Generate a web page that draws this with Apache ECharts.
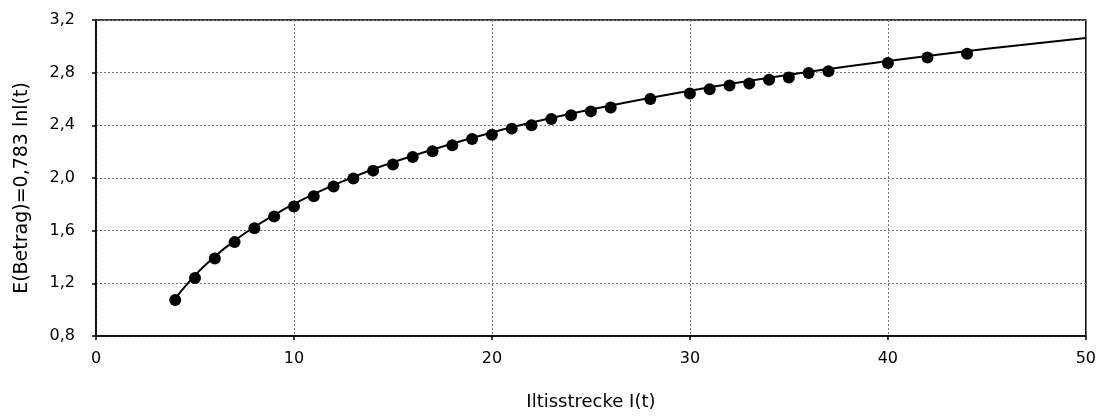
<!DOCTYPE html>
<html>
<head>
<meta charset="utf-8">
<script src="https://cdn.jsdelivr.net/npm/echarts@6/dist/echarts.min.js"></script>
<style>
html,body{margin:0;padding:0;background:#fff;}
#chart{width:1099px;height:416px;}
</style>
</head>
<body>
<div id="chart"></div>
<script>
// Observed points (x = Iltisstrecke, y = E(Betrag))
var pointX = [4,5,6,7,8,9,10,11,12,13,14,15,16,17,18,19,20,21,22,23,24,25,26,28,30,31,32,33,34,35,36,37,40,42,44];
var pointY = [1.073,1.24,1.389,1.513,1.619,1.707,1.783,1.861,1.935,1.996,2.056,2.102,2.16,2.203,2.248,2.296,2.329,2.375,2.40,2.448,2.476,2.506,2.536,2.60,2.642,2.674,2.703,2.717,2.747,2.764,2.797,2.81,2.873,2.915,2.943];
// Fitted curve
var curveX = [4,5,6,7,8,10,12,15,20,25,30,35,40,45,50];
var curveY = [1.085,1.26,1.403,1.524,1.628,1.803,1.946,2.12,2.346,2.52,2.663,2.784,2.888,2.981,3.063];
var xTicks = [0,10,20,30,40,50];
var yTicks = ['0,8','1,2','1,6','2,0','2,4','2,8','3,2'];

var chart = echarts.init(document.getElementById('chart'), null, {renderer:'canvas'});
var font = '"DejaVu Sans", "Liberation Sans", sans-serif';
chart.setOption({
  animation:false,
  backgroundColor:'#fff',
  grid:{left:96,right:13,top:20,bottom:79,show:true,borderColor:'#000',borderWidth:1.5,backgroundColor:'transparent'},
  xAxis:{
    type:'value',min:0,max:50,interval:10,
    name:'Iltisstrecke I(t)',nameLocation:'middle',nameGap:57,
    nameTextStyle:{fontFamily:font,fontSize:18,color:'#000'},
    axisLine:{show:true,lineStyle:{color:'#000',width:1.5}},
    axisTick:{show:true,length:4,lineStyle:{color:'#000',width:1.5}},
    axisLabel:{fontFamily:font,fontSize:16,color:'#000',margin:15,formatter:function(v){return xTicks.indexOf(v)>=0?String(v):'';}},
    splitLine:{show:true,lineStyle:{color:'#777',type:[2,2],width:1}}
  },
  yAxis:{
    type:'value',min:0.8,max:3.2,interval:0.4,
    name:'E(Betrag)=0,783 lnl(t)',nameLocation:'middle',nameGap:64,
    nameTextStyle:{fontFamily:font,fontSize:19,color:'#000',padding:[0,20,0,0]},
    axisLine:{show:true,lineStyle:{color:'#000',width:1.5}},
    axisTick:{show:true,length:4,lineStyle:{color:'#000',width:1.5}},
    axisLabel:{fontFamily:font,fontSize:16,color:'#000',margin:21,formatter:function(v){var i=Math.round((v-0.8)/0.4);return yTicks[i]||'';}},
    splitLine:{show:true,lineStyle:{color:'#777',type:[2,2],width:1}}
  },
  series:[
    {type:'line',data:curveX.map(function(x,i){return [x,curveY[i]];}),smooth:0.4,showSymbol:false,
     lineStyle:{color:'#000',width:2},z:2},
    {type:'scatter',data:pointX.map(function(x,i){return [x,pointY[i]];}),symbol:'circle',symbolSize:12,
     itemStyle:{color:'#000',opacity:1},z:3}
  ]
});
</script>
</body>
</html>
